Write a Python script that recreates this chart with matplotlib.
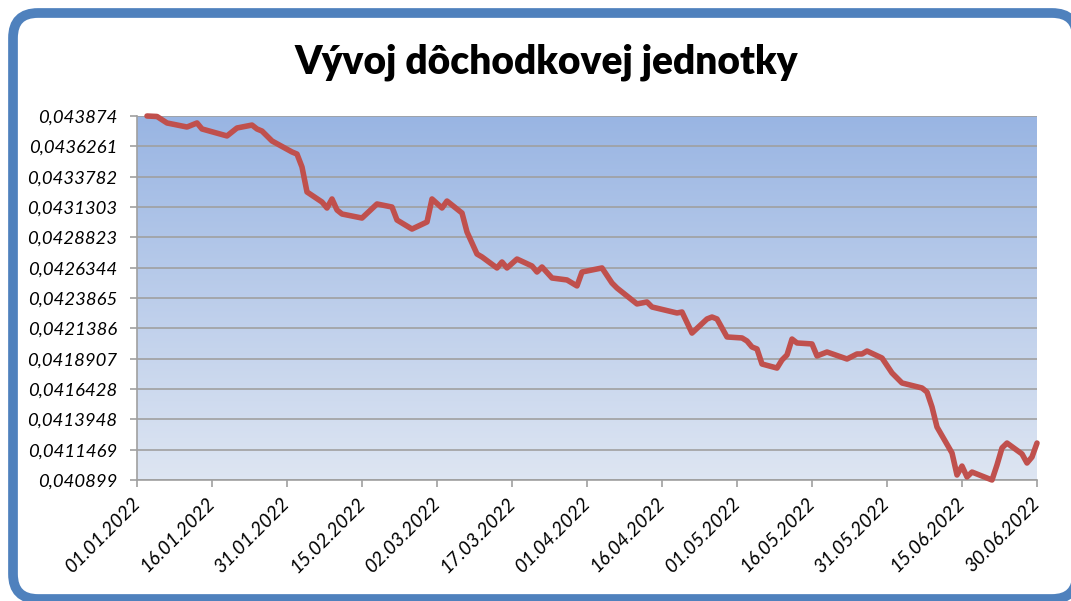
import numpy as np
import pandas as pd
import matplotlib
matplotlib.use("Agg")
import matplotlib.pyplot as plt
from matplotlib.patches import FancyBboxPatch

TITLE = "Vývoj dôchodkovej jednotky"

dates = [
    "03.01", "05.01", "07.01", "11.01", "13.01", "14.01", "19.01", "21.01", "24.01", "25.01",
    "26.01", "28.01", "01.02", "02.02", "03.02", "04.02", "07.02", "08.02", "09.02", "10.02",
    "11.02", "15.02", "18.02", "21.02", "22.02", "23.02", "25.02", "28.02", "01.03", "03.03",
    "04.03", "07.03", "08.03", "10.03", "11.03", "14.03", "15.03", "16.03", "18.03", "21.03",
    "22.03", "23.03", "25.03", "28.03", "30.03", "31.03", "04.04", "06.04", "07.04", "11.04",
    "13.04", "14.04", "19.04", "20.04", "22.04", "25.04", "26.04", "27.04", "29.04", "02.05",
    "03.05", "04.05", "05.05", "06.05", "09.05", "10.05", "11.05", "12.05", "13.05", "16.05",
    "17.05", "19.05", "23.05", "25.05", "26.05", "27.05", "30.05", "01.06", "03.06", "07.06",
    "08.06", "09.06", "10.06", "13.06", "14.06", "15.06", "16.06", "17.06", "21.06", "22.06",
    "23.06", "24.06", "27.06", "28.06", "29.06", "30.06",
]
values = [
    0.043874, 0.043870, 0.043817, 0.043784, 0.043817, 0.043768, 0.043711, 0.043776, 0.043800, 0.043768,
    0.043751, 0.043670, 0.043580, 0.043563, 0.043457, 0.043253, 0.043171, 0.043122, 0.043196, 0.043106,
    0.043073, 0.043040, 0.043155, 0.043130, 0.043024, 0.042999, 0.042950, 0.043008, 0.043196, 0.043122,
    0.043179, 0.043081, 0.042926, 0.042746, 0.042722, 0.042632, 0.042681, 0.042632, 0.042705, 0.042648,
    0.042599, 0.042640, 0.042550, 0.042534, 0.042485, 0.042599, 0.042632, 0.042509, 0.042468, 0.042338,
    0.042354, 0.042313, 0.042264, 0.042272, 0.042100, 0.042215, 0.042231, 0.042215, 0.042068, 0.042060,
    0.042035, 0.041986, 0.041970, 0.041847, 0.041814, 0.041880, 0.041921, 0.042051, 0.042019, 0.042011,
    0.041913, 0.041945, 0.041888, 0.041929, 0.041929, 0.041953, 0.041896, 0.041774, 0.041692, 0.041651,
    0.041618, 0.041496, 0.041332, 0.041120, 0.040940, 0.041013, 0.040924, 0.040964, 0.040899, 0.041022,
    0.041161, 0.041201, 0.041112, 0.041038, 0.041087, 0.041201,
]

y_ticks = [0.040899, 0.0411469, 0.0413948, 0.0416428, 0.0418907, 0.0421386, 0.0423865,
           0.0426344, 0.0428823, 0.0431303, 0.0433782, 0.0436261, 0.043874]
y_labels = ["0,040899", "0,0411469", "0,0413948", "0,0416428", "0,0418907", "0,0421386",
            "0,0423865", "0,0426344", "0,0428823", "0,0431303", "0,0433782", "0,0436261",
            "0,043874"]
x_ticks = ["01.01", "16.01", "31.01", "15.02", "02.03", "17.03", "01.04", "16.04",
           "01.05", "16.05", "31.05", "15.06", "30.06"]

x = pd.to_datetime([d + ".2022" for d in dates], format="%d.%m.%Y")
xt = pd.to_datetime([d + ".2022" for d in x_ticks], format="%d.%m.%Y")

plt.rcParams['font.family'] = ['Lato', 'DejaVu Sans']

fig = plt.figure(figsize=(10.71, 6.01), dpi=100)
fig.patch.set_facecolor("white")

# rounded blue frame in inches; filled so Agg does not clip the stroke at the edge
frame = FancyBboxPatch((0.13, 0.02), 10.64, 5.86,
                       boxstyle="round,pad=0,rounding_size=0.25",
                       transform=fig.dpi_scale_trans, facecolor="white",
                       edgecolor="#4F81BD", linewidth=7, zorder=-1)
fig.patches.append(frame)

ax = fig.add_axes([137 / 1071, 121 / 601, 900 / 1071, 364 / 601])
ax.set_facecolor("none")

# vertical gradient background
top = np.array([0.60, 0.71, 0.89])
bot = np.array([0.87, 0.90, 0.95])
t = np.linspace(0, 1, 256)[:, None]
grad = (top * (1 - t) + bot * t)[:, None, :]
ax.imshow(grad, extent=[0, 1, 0, 1], transform=ax.transAxes, aspect="auto", zorder=0)

ax.plot(x, values, color="#C0504D", linewidth=4, solid_joinstyle="round",
        solid_capstyle="round", zorder=3, clip_on=False)

ax.set_xlim(xt[0], xt[-1])
ax.set_ylim(y_ticks[0], y_ticks[-1])
ax.set_yticks(y_ticks)
ax.set_yticklabels(y_labels, fontsize=13.3, style="italic")
ax.set_xticks(xt)
ax.set_xticklabels([d + ".2022" for d in x_ticks], fontsize=13.8, style="italic",
                   rotation=45, ha="right", va="center", rotation_mode="anchor")
ax.tick_params(axis="x", length=5, color="#A0A0A0", width=1.2, pad=10)
ax.tick_params(axis="y", length=5, color="#A0A0A0", width=1.2, pad=9)
ax.grid(axis="y", color="#A0A0A0", linewidth=1.2, zorder=1)
for s in ["top", "right"]:
    ax.spines[s].set_visible(False)
for s in ["left", "bottom"]:
    ax.spines[s].set_color("#A0A0A0")
    ax.spines[s].set_linewidth(1.2)

fig.text(546 / 1071, 1 - 62 / 601, TITLE, ha="center", va="center",
         fontsize=28, fontweight="heavy")

fig.savefig("out.png", dpi=100)
